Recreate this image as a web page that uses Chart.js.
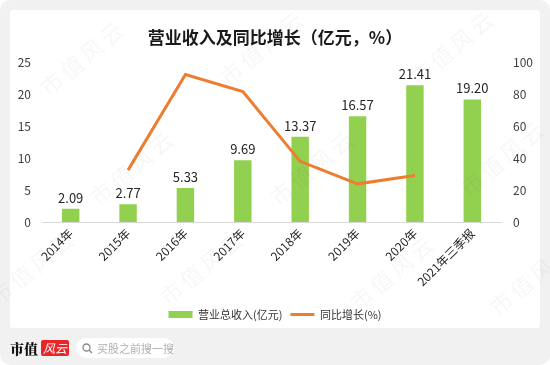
<!DOCTYPE html>
<html>
<head>
<meta charset="utf-8">
<script src="https://cdn.jsdelivr.net/npm/chart.js@4.4.1/dist/chart.umd.min.js"></script>
<style>
  html, body { margin: 0; padding: 0; background: #fff; }
  #page {
    position: relative; width: 550px; height: 365px; background: #f1f1f1;
    border-radius: 10px; overflow: hidden;
    font-family: "Noto Sans CJK SC", sans-serif;
  }
  #card { position: absolute; left: 10px; top: 10px; width: 530px; height: 318px; background: #fff; border-radius: 3px; }
  #chartWrap { position: absolute; left: 0; top: 0; width: 550px; height: 330px; }
  .wm {
    position: absolute; color: rgba(0, 0, 0, 0.035); font-size: 22px; letter-spacing: 4px;
    transform: rotate(-40deg); white-space: nowrap; pointer-events: none;
  }
  #footer { position: absolute; left: 10px; top: 338px; height: 20px; display: flex; align-items: center; }
  .brand { font-family: "Noto Serif CJK SC", "Noto Sans CJK SC", serif; font-weight: 900; font-size: 14px; color: #111; }
  .logo {
    margin-left: 3px; background: #e8262a; color: #fff; font-size: 12px; font-style: italic;
    width: 28px; height: 16px; line-height: 16px; text-align: center; border-radius: 2px;
  }
  .search {
    margin-left: 7px; background: #fff; border-radius: 10px; height: 20px; width: 98px;
    display: flex; align-items: center; padding-left: 6px; box-sizing: border-box;
    color: #b0b0b0; font-size: 11px;
  }
  .search svg { margin-right: 4px; }
</style>
</head>
<body>
<div id="page">
  <div id="card"></div>
  <div id="chartWrap"><canvas id="revenueChart" width="550" height="330"></canvas></div>
  <div class="wm" style="left:30px;top:40px;">市值风云</div>
  <div class="wm" style="left:210px;top:30px;">市值风云</div>
  <div class="wm" style="left:400px;top:30px;">市值风云</div>
  <div class="wm" style="left:80px;top:150px;">市值风云</div>
  <div class="wm" style="left:260px;top:150px;">市值风云</div>
  <div class="wm" style="left:450px;top:140px;">市值风云</div>
  <div class="wm" style="left:-20px;top:250px;">市值风云</div>
  <div class="wm" style="left:150px;top:250px;">市值风云</div>
  <div class="wm" style="left:340px;top:255px;">市值风云</div>
  <div class="wm" style="left:480px;top:260px;">市值风云</div>
  <div id="footer">
    <span class="brand">市值</span>
    <span class="logo">风云</span>
    <span class="search">
      <svg width="11" height="11" viewBox="0 0 11 11"><circle cx="4.5" cy="4.5" r="3.5" fill="none" stroke="#888" stroke-width="1.3"/><line x1="7.2" y1="7.2" x2="10" y2="10" stroke="#888" stroke-width="1.3"/></svg>
      买股之前搜一搜
    </span>
  </div>
</div>
<script>
  // Categories and series
  const categories = ['2014年', '2015年', '2016年', '2017年', '2018年', '2019年', '2020年', '2021年三季报'];
  const revenue = [2.09, 2.77, 5.33, 9.69, 13.37, 16.57, 21.41, 19.20];
  const growth = [null, 32.5, 92.4, 81.8, 38.0, 23.9, 29.2, null];
  const leftTicks = [0, 5, 10, 15, 20, 25];
  const rightTicks = [0, 20, 40, 60, 80, 100];

  const font = '"Noto Sans CJK SC", sans-serif';

  // Value labels above the bars
  const barLabels = {
    id: 'barLabels',
    afterDatasetsDraw(chart) {
      const ctx = chart.ctx;
      const meta = chart.getDatasetMeta(0);
      ctx.save();
      ctx.font = '13px ' + font;
      ctx.fillStyle = '#262626';
      ctx.textAlign = 'center';
      ctx.textBaseline = 'middle';
      meta.data.forEach((bar, i) => {
        ctx.fillText(revenue[i].toFixed(2), bar.x, bar.y - 11);
      });
      ctx.restore();
    }
  };

  const ctx = document.getElementById('revenueChart').getContext('2d');
  const revenueChart = new Chart(ctx, {
    data: {
      labels: categories,
      datasets: [{
        type: 'bar',
        label: '营业总收入(亿元)',
        data: revenue,
        backgroundColor: '#92d050',
        borderWidth: 0,
        barPercentage: 0.38,
        categoryPercentage: 0.8,
        yAxisID: 'y',
        order: 2
      }, {
        type: 'line',
        label: '同比增长(%)',
        data: growth,
        borderColor: '#ed7d31',
        backgroundColor: '#ed7d31',
        borderWidth: 3,
        pointRadius: 0,
        tension: 0,
        yAxisID: 'y1',
        order: 1
      }]
    },
    options: {
      responsive: false,
      animation: false,
      layout: { padding: { top: 0, bottom: 0, left: 0, right: 0 } },
      plugins: {
        title: {
          display: true,
          text: '营业收入及同比增长（亿元，%）',
          color: '#1a1a1a',
          font: { family: font, size: 17, weight: 'bold' },
          padding: { top: 27, bottom: 15 }
        },
        legend: {
          position: 'bottom',
          labels: {
            usePointStyle: true,
            pointStyleWidth: 24,
            boxHeight: 7,
            padding: 8,
            color: '#333',
            font: { family: font, size: 11 },
            sort: (a, b) => a.datasetIndex - b.datasetIndex,
            generateLabels: chart => Chart.defaults.plugins.legend.labels.generateLabels(chart).map(item => {
              item.pointStyle = item.datasetIndex === 0 ? 'rect' : 'line';
              item.lineWidth = item.datasetIndex === 0 ? 0 : 3;
              return item;
            })
          }
        },
        tooltip: { enabled: false }
      },
      scales: {
        x: {
          grid: { display: false, drawTicks: false },
          border: { color: '#d9d9d9', width: 1 },
          ticks: {
            color: '#262626',
            font: { family: font, size: 12 },
            maxRotation: 45,
            minRotation: 45,
            padding: 4
          },
          afterFit: scale => { scale.height = 79; }
        },
        y: {
          position: 'left',
          min: 0,
          max: 25,
          afterBuildTicks: scale => { scale.ticks = leftTicks.map(v => ({ value: v })); },
          grid: { display: false, drawTicks: false },
          border: { display: false },
          ticks: { color: '#404040', font: { family: font, size: 12 }, padding: 11 },
          afterFit: scale => { scale.width = 42; }
        },
        y1: {
          position: 'right',
          min: 0,
          max: 100,
          afterBuildTicks: scale => { scale.ticks = rightTicks.map(v => ({ value: v })); },
          grid: { display: false, drawTicks: false },
          border: { display: false },
          ticks: { color: '#404040', font: { family: font, size: 12 }, padding: 12 },
          afterFit: scale => { scale.width = 49; }
        }
      }
    },
    plugins: [barLabels]
  });
</script>
</body>
</html>
